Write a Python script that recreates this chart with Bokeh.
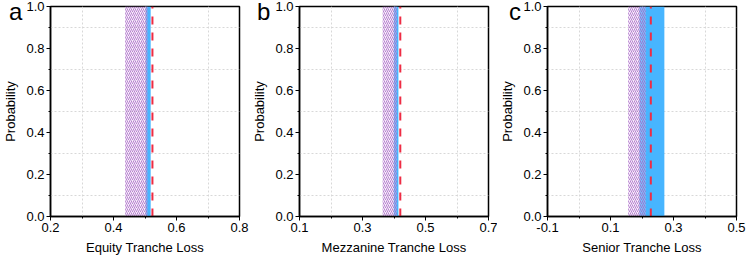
from bokeh.plotting import figure
from bokeh.layouts import row
from bokeh.models import FixedTicker, Range1d, Div
from bokeh.embed import file_html
from bokeh.resources import INLINE

# ---- data ----
panel_letters = ["a", "b", "c"]
x_titles = ["Equity Tranche Loss", "Mezzanine Tranche Loss", "Senior Tranche Loss"]
x_lo = [0.2, 0.1, -0.1]
x_hi = [0.8, 0.7, 0.5]
x_major = [[0.2, 0.4, 0.6, 0.8], [0.1, 0.3, 0.5, 0.7], [-0.1, 0.1, 0.3, 0.5]]
x_major_labels = [["0.2", "0.4", "0.6", "0.8"], ["0.1", "0.3", "0.5", "0.7"], ["-0.1", "0.1", "0.3", "0.5"]]
x_minor = [[0.3, 0.5, 0.7], [0.2, 0.4, 0.6], [0.0, 0.2, 0.4]]
y_major = [0.0, 0.2, 0.4, 0.6, 0.8, 1.0]
y_major_labels = ["0.0", "0.2", "0.4", "0.6", "0.8", "1.0"]
y_minor = [0.1, 0.3, 0.5, 0.7, 0.9]
hatch_lo = [0.437, 0.364, 0.156]
hatch_hi = [0.508, 0.409, 0.212]
blue_lo = [0.5026, 0.399, 0.192]
blue_hi = [0.518, 0.414, 0.271]
red_x = [0.5236, 0.420, 0.228]
prob_lo = 0.0
prob_hi = 1.0

# ---- layout ----
fig_w = [249, 248, 250]
fig_borders_left = [48, 48, 47]
fig_borders_right = [10, 9, 11]
letter_left_px = [9, 257, 509]
letter_top_px = 0
FIG_H = 260
BORDER_TOP = 6
BORDER_BOTTOM = 44

FONT = "Liberation Sans"
BLUE = "#47B5FF"
RED = "#EE2C44"
PURPLE = "#A060C0"

figs = []
for i in range(3):
    p = figure(
        output_backend="svg", toolbar_location=None,
        width=fig_w[i], height=FIG_H,
        min_border_left=fig_borders_left[i], min_border_right=fig_borders_right[i],
        min_border_top=BORDER_TOP, min_border_bottom=BORDER_BOTTOM,
        x_range=Range1d(x_lo[i], x_hi[i]), y_range=Range1d(prob_lo, prob_hi),
    )
    p.background_fill_color = "white"
    p.border_fill_color = "white"
    p.outline_line_color = "black"
    p.outline_line_width = 1.5

    p.quad(left=[blue_lo[i]], right=[blue_hi[i]], bottom=[prob_lo], top=[prob_hi],
           fill_color=BLUE, line_color=None)
    p.quad(left=[hatch_lo[i]], right=[hatch_hi[i]], bottom=[prob_lo], top=[prob_hi],
           fill_color="#E9C9F0", fill_alpha=0.35, line_color=None,
           hatch_pattern="/", hatch_color=PURPLE, hatch_scale=4, hatch_weight=1,
           hatch_alpha=0.75)
    p.line([red_x[i], red_x[i]], [prob_lo, prob_hi], line_color=RED,
           line_width=2, line_dash="8 8")

    p.xaxis.ticker = FixedTicker(ticks=x_major[i], minor_ticks=x_minor[i])
    p.yaxis.ticker = FixedTicker(ticks=y_major, minor_ticks=y_minor)
    p.xaxis.major_label_overrides = dict(zip(x_major[i], x_major_labels[i]))
    p.yaxis.major_label_overrides = dict(zip(y_major, y_major_labels))

    for ax in (p.xaxis[0], p.yaxis[0]):
        ax.axis_line_color = "black"
        ax.axis_line_width = 1.5
        ax.major_tick_line_color = "black"
        ax.minor_tick_line_color = "black"
        ax.major_tick_out = 4
        ax.major_tick_in = 0
        ax.minor_tick_out = 2
        ax.minor_tick_in = 0
        ax.major_label_text_font = FONT
        ax.major_label_text_font_size = "13px"
        ax.major_label_text_color = "black"
        ax.axis_label_text_font = FONT
        ax.axis_label_text_font_size = "13px"
        ax.axis_label_text_font_style = "normal"
        ax.axis_label_text_color = "black"
        ax.major_label_standoff = 2
    p.xaxis.axis_label = x_titles[i]
    p.yaxis.axis_label = "Probability"
    p.xaxis.axis_label_standoff = 5
    p.yaxis.axis_label_standoff = 5

    p.xgrid.grid_line_color = None
    p.ygrid.grid_line_color = None
    p.xgrid.minor_grid_line_color = "#D8D8D8"
    p.ygrid.minor_grid_line_color = "#D8D8D8"
    p.xgrid.minor_grid_line_dash = "2 2"
    p.ygrid.minor_grid_line_dash = "2 2"
    figs.append(p)

# panel letters as absolutely positioned text over the figures' left borders
letters = []
for i in range(3):
    letters.append(Div(
        text=panel_letters[i], width=32, height=32,
        styles={"position": "absolute", "left": f"{letter_left_px[i]}px",
                "top": f"{letter_top_px}px", "font-family": FONT,
                "font-size": "24px", "line-height": "24px", "color": "black",
                "margin": "0", "padding": "0", "overflow": "visible",
                "z-index": "10"},
    ))

layout = row(*figs, *letters)
open("out.html", "w").write(file_html(layout, INLINE))
